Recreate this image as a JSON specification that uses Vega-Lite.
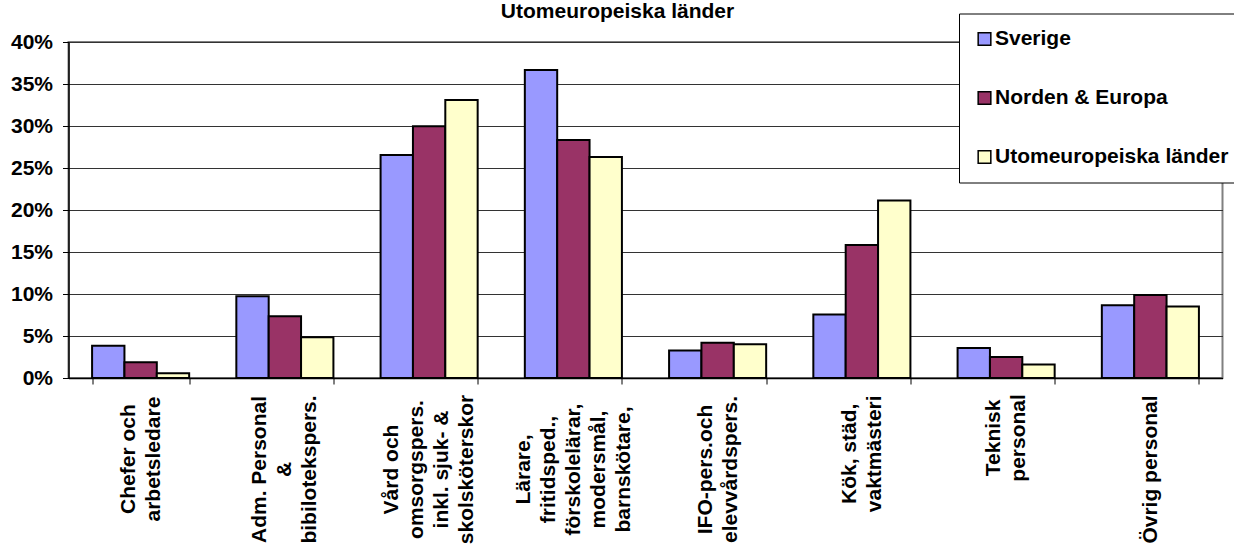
{
  "$schema": "https://vega.github.io/schema/vega-lite/v6.json",
  "width": 1154,
  "height": 336,
  "autosize": {"type": "none"},
  "padding": {"left": 68.5, "top": 42, "right": 11.5, "bottom": 167},
  "title": {"text": "Utomeuropeiska länder", "fontSize": 21, "font": "Liberation Sans", "fontWeight": "bold", "anchor": "middle", "dx": -28, "offset": 0, "dy": 8.5, "color": "black"},
  "data": {"values": [
    {"yrke": "Chefer och\narbetsledare", "grupp": "Sverige", "andel": 0.0385},
    {"yrke": "Chefer och\narbetsledare", "grupp": "Norden & Europa", "andel": 0.0187},
    {"yrke": "Chefer och\narbetsledare", "grupp": "Utomeuropeiska länder", "andel": 0.0056},
    {"yrke": "Adm. Personal\n&\nbibilotekspers.", "grupp": "Sverige", "andel": 0.0972},
    {"yrke": "Adm. Personal\n&\nbibilotekspers.", "grupp": "Norden & Europa", "andel": 0.0734},
    {"yrke": "Adm. Personal\n&\nbibilotekspers.", "grupp": "Utomeuropeiska länder", "andel": 0.0484},
    {"yrke": "Vård och\nomsorgspers.\ninkl. sjuk- &\nskolsköterskor", "grupp": "Sverige", "andel": 0.2655},
    {"yrke": "Vård och\nomsorgspers.\ninkl. sjuk- &\nskolsköterskor", "grupp": "Norden & Europa", "andel": 0.2996},
    {"yrke": "Vård och\nomsorgspers.\ninkl. sjuk- &\nskolsköterskor", "grupp": "Utomeuropeiska länder", "andel": 0.331},
    {"yrke": "Lärare,\nfritidsped.,\nförskolelärar,\nmodersmål,\nbarnskötare,", "grupp": "Sverige", "andel": 0.3667},
    {"yrke": "Lärare,\nfritidsped.,\nförskolelärar,\nmodersmål,\nbarnskötare,", "grupp": "Norden & Europa", "andel": 0.2833},
    {"yrke": "Lärare,\nfritidsped.,\nförskolelärar,\nmodersmål,\nbarnskötare,", "grupp": "Utomeuropeiska länder", "andel": 0.2631},
    {"yrke": "IFO-pers.och\nelevvårdspers.", "grupp": "Sverige", "andel": 0.0328},
    {"yrke": "IFO-pers.och\nelevvårdspers.", "grupp": "Norden & Europa", "andel": 0.0419},
    {"yrke": "IFO-pers.och\nelevvårdspers.", "grupp": "Utomeuropeiska länder", "andel": 0.0403},
    {"yrke": "Kök, städ,\nvaktmästeri", "grupp": "Sverige", "andel": 0.0755},
    {"yrke": "Kök, städ,\nvaktmästeri", "grupp": "Norden & Europa", "andel": 0.1583},
    {"yrke": "Kök, städ,\nvaktmästeri", "grupp": "Utomeuropeiska länder", "andel": 0.2114},
    {"yrke": "Teknisk\npersonal", "grupp": "Sverige", "andel": 0.0356},
    {"yrke": "Teknisk\npersonal", "grupp": "Norden & Europa", "andel": 0.0249},
    {"yrke": "Teknisk\npersonal", "grupp": "Utomeuropeiska länder", "andel": 0.0162},
    {"yrke": "Övrig personal", "grupp": "Sverige", "andel": 0.0867},
    {"yrke": "Övrig personal", "grupp": "Norden & Europa", "andel": 0.0989},
    {"yrke": "Övrig personal", "grupp": "Utomeuropeiska länder", "andel": 0.085}
  ]},
  "mark": {"type": "bar", "stroke": "black", "strokeWidth": 2},
  "encoding": {
    "x": {
      "field": "yrke", "type": "nominal", "sort": null,
      "scale": {"paddingInner": 0.327, "paddingOuter": 0.1635},
      "axis": {
        "title": null, "labelAngle": -90, "labelAlign": "center", "labelBaseline": "middle",
        "labelPadding": {"expr": "min(85, 11 + 5.3 * max(length(split(datum.label, '\\n')[0] || ''), length(split(datum.label, '\\n')[1] || ''), length(split(datum.label, '\\n')[2] || ''), length(split(datum.label, '\\n')[3] || ''), length(split(datum.label, '\\n')[4] || '')))"},
        "labelExpr": "split(datum.label, '\\n')", "labelLineHeight": 25,
        "labelOffset": {"expr": "-(length(split(datum.label, '\\n')) - 1) * 12.5"},
        "labelFontSize": 21, "labelFontWeight": "bold", "labelFont": "Liberation Sans", "labelColor": "black",
        "labelLimit": 400, "labelOverlap": false, "tickBand": "extent", "tickSize": 6, "tickColor": "black",
        "domainColor": "black", "domainWidth": 1.5, "grid": false
      }
    },
    "xOffset": {
      "field": "grupp", "type": "nominal",
      "sort": ["Sverige", "Norden & Europa", "Utomeuropeiska länder"],
      "scale": {"paddingInner": 0, "paddingOuter": 0}
    },
    "y": {
      "field": "andel", "type": "quantitative",
      "scale": {"domain": [0, 0.4], "nice": false},
      "axis": {
        "title": null, "values": [0, 0.05, 0.1, 0.15, 0.2, 0.25, 0.3, 0.35, 0.4], "format": ".0%",
        "grid": true, "gridColor": "#333333", "gridWidth": 1, "tickSize": 6, "tickColor": "black",
        "domainColor": "black", "domainWidth": 1.5, "labelFontSize": 21, "labelFontWeight": "bold",
        "labelFont": "Liberation Sans", "labelColor": "black", "labelPadding": 10
      }
    },
    "color": {
      "field": "grupp", "type": "nominal",
      "scale": {"domain": ["Sverige", "Norden & Europa", "Utomeuropeiska länder"], "range": ["#9999FF", "#993366", "#FFFFCC"]},
      "legend": {
        "title": null, "orient": "none", "legendX": 890.5, "legendY": -28.5, "direction": "vertical",
        "padding": 15, "strokeColor": "black", "fillColor": "white", "symbolType": "square", "symbolSize": 160,
        "symbolStrokeColor": "black", "symbolStrokeWidth": 1.5, "symbolOpacity": 1,
        "labelFontSize": 21, "labelFont": "Liberation Sans", "labelFontWeight": "bold", "labelColor": "black",
        "rowPadding": 37, "labelOffset": 0, "labelLimit": 400
      }
    }
  },
  "config": {"view": {"stroke": "#808080", "strokeWidth": 2}}
}
